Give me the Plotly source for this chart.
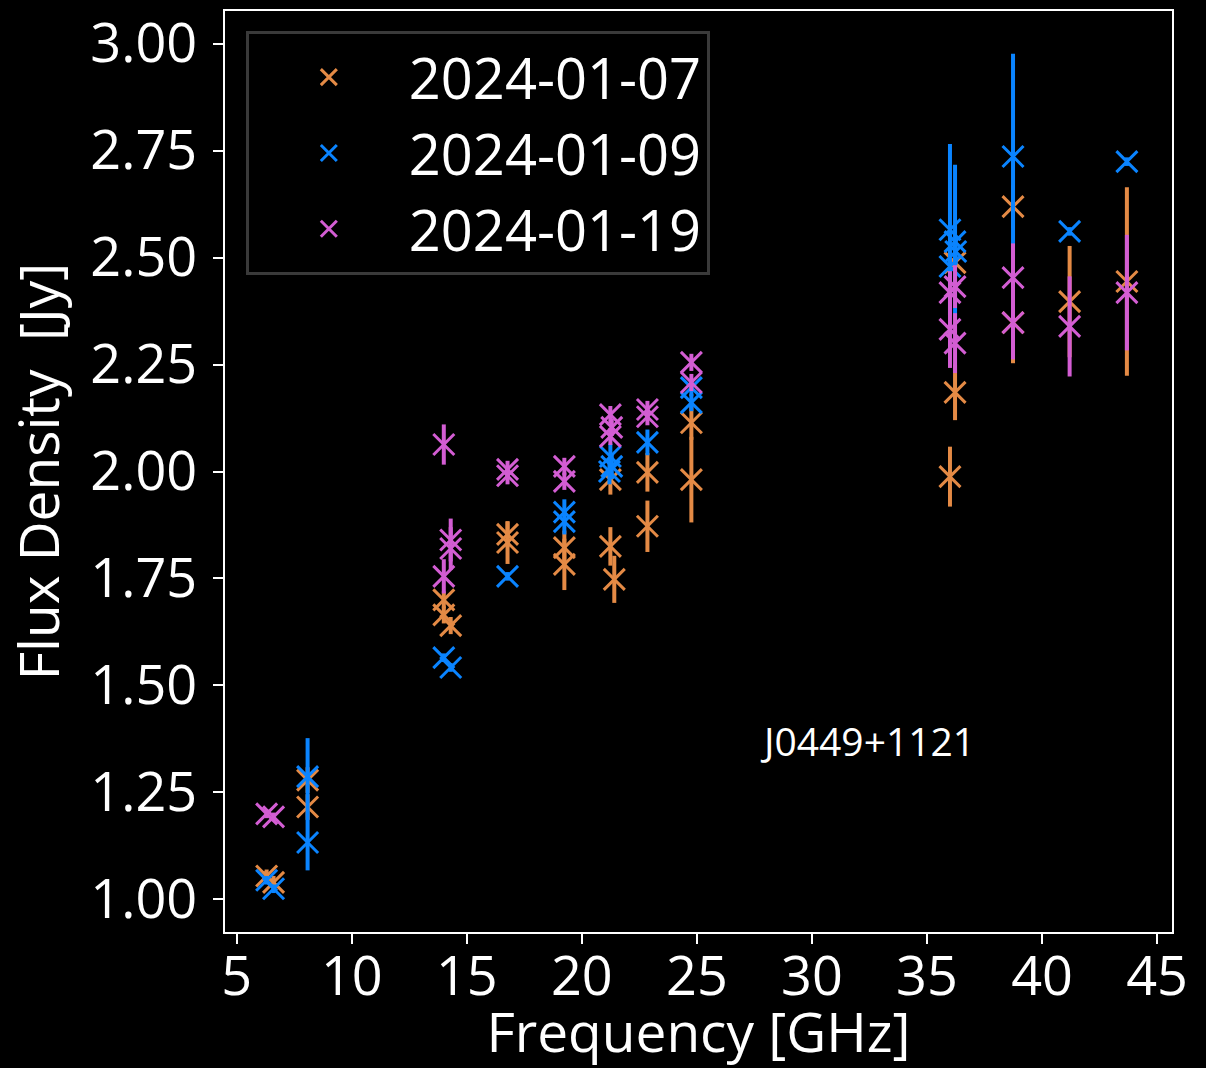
import plotly.graph_objects as go

# Flux density measurements of J0449+1121, per observing date
dates = ["2024-01-07", "2024-01-09", "2024-01-19"]

freq_0107 = [6.3, 6.6, 8.08, 8.08, 14.0, 14.0, 14.3, 16.77, 16.77, 19.24, 19.24,
             21.24, 21.24, 21.41, 22.85, 22.85, 24.76, 24.76,
             36.0, 36.22, 36.22, 38.74, 38.74, 41.2, 43.69]
flux_0107 = [1.055, 1.04, 1.279, 1.216, 1.70, 1.665, 1.64, 1.853, 1.834, 1.822, 1.783,
             1.981, 1.825, 1.748, 1.998, 1.872, 2.114, 1.981,
             1.988, 2.185, 2.488, 2.619, 2.348, 2.397, 2.444]
err_0107 = [0.015, 0.015, 0.03, 0.03, 0.02, 0.02, 0.02, 0.03, 0.05, 0.04, 0.06,
            0.035, 0.045, 0.055, 0.045, 0.06, 0.04, 0.10,
            0.07, 0.065, 0.05, 0.05, 0.095, 0.13, 0.22]

freq_0109 = [6.3, 6.6, 8.08, 8.08, 14.0, 14.3, 16.77, 19.24, 19.24,
             21.24, 21.3, 21.2, 22.85, 24.76, 24.76,
             36.0, 36.22, 36.25, 36.0, 38.74, 41.2, 43.69]
flux_0109 = [1.045, 1.025, 1.287, 1.133, 1.565, 1.542, 1.755, 1.905, 1.883,
             2.035, 2.012, 2.0, 2.068, 2.196, 2.161,
             2.565, 2.537, 2.514, 2.479, 2.736, 2.561, 2.724]
err_0109 = [0.01, 0.01, 0.09, 0.065, 0.01, 0.01, 0.01, 0.03, 0.03,
            0.03, 0.03, 0.03, 0.03, 0.02, 0.02,
            0.2, 0.18, 0.03, 0.03, 0.24, 0.01, 0.01]

freq_0119 = [6.3, 6.6, 14.0, 14.3, 14.3, 14.0, 16.77, 16.77, 19.24, 19.24,
             21.24, 21.3, 21.24, 22.85, 22.85, 24.76, 24.76,
             36.0, 36.22, 36.0, 36.22, 38.74, 38.74, 41.2, 43.69]
flux_0119 = [1.20, 1.193, 2.063, 1.84, 1.82, 1.755, 2.005, 1.99, 2.012, 1.977,
             2.133, 2.103, 2.082, 2.145, 2.128, 2.255, 2.208,
             2.418, 2.432, 2.332, 2.30, 2.453, 2.348, 2.339, 2.418]
err_0119 = [0.01, 0.01, 0.047, 0.05, 0.05, 0.04, 0.02, 0.02, 0.02, 0.02,
            0.02, 0.02, 0.02, 0.02, 0.02, 0.02, 0.02,
            0.05, 0.05, 0.09, 0.07, 0.08, 0.086, 0.117, 0.135]

source_name = "J0449+1121"
x_title = "Frequency [GHz]"
y_title = "Flux Density\u00a0 [Jy]"
x_ticks = [5, 10, 15, 20, 25, 30, 35, 40, 45]
y_ticks = [1.00, 1.25, 1.50, 1.75, 2.00, 2.25, 2.50, 2.75, 3.00]

colors = ["#E48A45", "#0A84FF", "#D35DD3"]
series = [(freq_0107, flux_0107, err_0107),
          (freq_0109, flux_0109, err_0109),
          (freq_0119, flux_0119, err_0119)]

FONT = "Open Sans"

fig = go.Figure()
for label, color, (f, s, e) in zip(dates, colors, series):
    fig.add_trace(go.Scatter(
        x=f, y=s, name=label, mode="markers",
        marker=dict(symbol="x-thin-open", size=21, color=color,
                    line=dict(color=color, width=3)),
        error_y=dict(type="data", array=e, visible=True, color=color,
                     thickness=4, width=0),
    ))

# source label inside the plot area
fig.add_annotation(x=32.4, y=1.372, xref="x", yref="y", text=source_name,
                   showarrow=False, xanchor="center", yanchor="middle",
                   font=dict(family=FONT, size=39, color="white"))

axis_common = dict(
    showline=True, mirror=True, linecolor="white", linewidth=2,
    ticks="outside", ticklen=10, tickwidth=2, tickcolor="white",
    showgrid=False, zeroline=False, automargin=False,
    tickfont=dict(family=FONT, size=54, color="white"),
)

fig.update_layout(
    width=1206, height=1068,
    margin=dict(l=225, r=34, t=11, b=136),
    paper_bgcolor="black", plot_bgcolor="black",
    font=dict(family=FONT, color="white"),
    xaxis=dict(range=[4.49, 45.65], tickvals=x_ticks,
               ticktext=[str(v) for v in x_ticks],
               title=dict(text=x_title,
                          font=dict(family=FONT, size=55, color="white")),
               ticklabelstandoff=-14,
               **axis_common),
    yaxis=dict(range=[0.924, 3.076], tickvals=y_ticks,
               ticktext=[f"{v:.2f}" for v in y_ticks],
               title=dict(text=y_title,
                          font=dict(family=FONT, size=55, color="white")),
               ticklabelstandoff=5,
               **axis_common),
    legend=dict(x=0.022, y=0.978, xanchor="left", yanchor="top",
                bgcolor="black", bordercolor="#3a3a3a", borderwidth=3,
                font=dict(family=FONT, size=56, color="white"),
                itemwidth=150),
)

fig.write_html("out.html")
